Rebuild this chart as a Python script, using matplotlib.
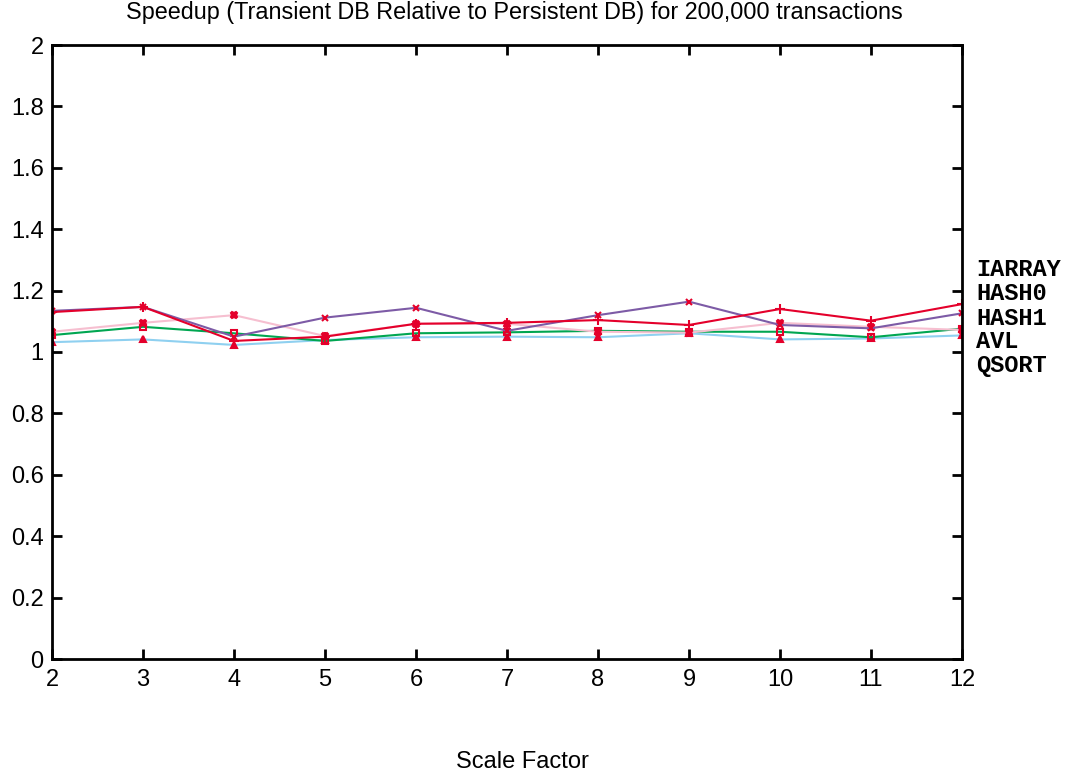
import matplotlib
matplotlib.use("Agg")
import matplotlib.pyplot as plt

scale = [2, 3, 4, 5, 6, 7, 8, 9, 10, 11, 12]

iarray = [1.130, 1.147, 1.036, 1.050, 1.092, 1.095, 1.104, 1.088, 1.140, 1.102, 1.156]
hash0 = [1.134, 1.147, 1.050, 1.112, 1.144, 1.069, 1.120, 1.164, 1.088, 1.077, 1.126]
hash1 = [1.066, 1.095, 1.120, 1.052, 1.092, 1.092, 1.066, 1.063, 1.095, 1.082, 1.072]
avl = [1.055, 1.082, 1.061, 1.036, 1.061, 1.064, 1.069, 1.066, 1.066, 1.048, 1.076]
qsort = [1.032, 1.041, 1.023, 1.039, 1.048, 1.050, 1.048, 1.061, 1.041, 1.044, 1.054]

legend_names = ["IARRAY", "HASH0", "HASH1", "AVL", "QSORT"]

plt.rcParams["font.family"] = ["Liberation Sans", "DejaVu Sans"]

fig = plt.figure(figsize=(10.68, 7.75), dpi=100)
ax = fig.add_axes([52 / 1068, 116 / 775, 910 / 1068, 614 / 775])

marker_color = "#e4002b"
series = [
    (qsort, "#8fd0f0", "^", 5, None),
    (avl, "#00a651", "s", 4, "none"),
    (hash1, "#f6bfd0", "X", 5, None),
    (hash0, "#7d5ba6", "x", 5, None),
    (iarray, "#e4002b", "+", 7, None),
]
for vals, col, mk, ms, mfc in series:
    ax.plot(scale, vals, color=col, lw=1.5, marker=mk, ms=ms,
            mec=marker_color, mfc=marker_color if mfc is None else mfc, mew=1.5)

ax.set_xlim(2, 12)
ax.set_ylim(0, 2)
ax.set_xticks(scale)
ax.set_yticks([0, 0.2, 0.4, 0.6, 0.8, 1, 1.2, 1.4, 1.6, 1.8, 2])
ax.set_yticklabels(["0", "0.2", "0.4", "0.6", "0.8", "1", "1.2", "1.4", "1.6", "1.8", "2"])
ax.tick_params(direction="in", length=7, width=2, labelsize=17, top=True, right=True)
ax.tick_params(axis="x", pad=7)
ax.tick_params(axis="y", pad=6)
for s in ax.spines.values():
    s.set_linewidth(2)

fig.text(514 / 1068, 1 - 13 / 775,
         "Speedup (Transient DB Relative to Persistent DB) for 200,000 transactions",
         fontsize=16.8, ha="center", va="center")
fig.text(522 / 1068, 1 - 762 / 775, "Scale Factor",
         fontsize=17, ha="center", va="center")

for i, name in enumerate(legend_names):
    fig.text(976 / 1068, 1 - (270 + 24 * i) / 775, name, fontsize=17, fontweight="bold",
             family="Liberation Mono", va="center", ha="left")

fig.savefig("out.png", dpi=100)
